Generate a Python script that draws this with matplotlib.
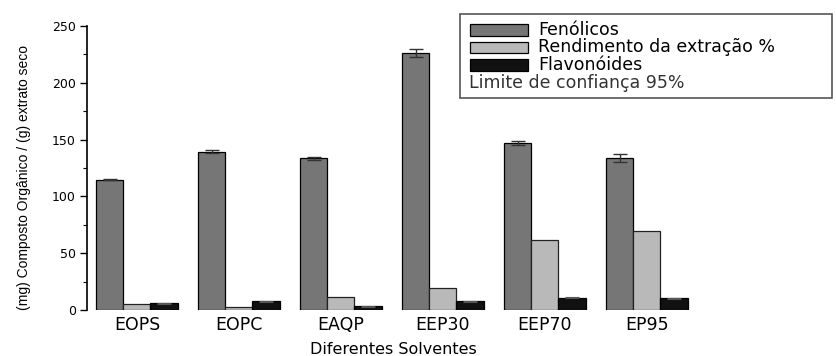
import matplotlib
matplotlib.use("Agg")
import matplotlib.pyplot as plt
import numpy as np
from matplotlib.patches import Rectangle
from matplotlib.ticker import MultipleLocator

categories = ["EOPS", "EOPC", "EAQP", "EEP30", "EEP70", "EP95"]
fenolicos = [114.5, 139.5, 133.5, 226.0, 147.0, 133.5]
fenolicos_err = [0.5, 1.5, 1.2, 3.5, 2.0, 3.5]
rendimento = [5.7, 2.6, 11.2, 19.0, 61.9, 69.5]
flavonoides = [5.8, 7.8, 3.3, 7.6, 11.0, 10.2]
flavonoides_err = [0.4, 0.4, 0.3, 0.4, 0.4, 0.3]

series_labels = ["Fenólicos", "Rendimento da extração %", "Flavonóides"]
colors = ["#767676", "#b9b9b9", "#111111"]
conf_label = "Limite de confiança 95%"

W, H = 837, 356
fig = plt.figure(figsize=(W / 100, H / 100), dpi=100)
ax = fig.add_axes([87 / W, 1 - 310 / H, (700 - 87) / W, (310 - 26) / H])

x = np.arange(len(categories))
bw = 0.265
ax.bar(x - bw, fenolicos, bw, color=colors[0], edgecolor="black", linewidth=0.9,
       yerr=fenolicos_err, error_kw=dict(ecolor="#333333", elinewidth=1.0, capsize=5, capthick=1.0))
ax.bar(x, rendimento, bw, color=colors[1], edgecolor="#222222", linewidth=0.9)
ax.bar(x + bw, flavonoides, bw, color=colors[2], edgecolor="black", linewidth=0.9,
       yerr=flavonoides_err, error_kw=dict(ecolor="#555555", elinewidth=0.8, capsize=5, capthick=0.8))

ax.set_xlim(-0.49, 5.52)
ax.set_ylim(0, 250)
ax.yaxis.set_major_locator(MultipleLocator(50))
ax.yaxis.set_minor_locator(MultipleLocator(25))
for s in ["top", "right", "bottom"]:
    ax.spines[s].set_visible(False)
ax.spines["left"].set_linewidth(1.2)
ax.tick_params(axis="y", which="major", length=5, width=1.0, labelsize=9, pad=3)
ax.tick_params(axis="y", which="minor", length=3, width=0.8)
ax.tick_params(axis="x", length=0, labelsize=12.5, pad=4)
ax.set_xticks(x)
ax.set_xticklabels(categories, fontfamily="DejaVu Sans")
for lab in ax.get_yticklabels():
    lab.set_fontfamily("DejaVu Sans")

ax.set_xlabel("Diferentes Solventes", fontsize=11.5, fontfamily="DejaVu Sans")
ax.xaxis.set_label_coords(0.5, -0.112)
ax.set_ylabel("(mg) Composto Orgânico / (g) extrato seco",
              fontsize=10, fontfamily=["Liberation Sans", "DejaVu Sans"])
ax.yaxis.set_label_coords(-0.091, 0.465)

# legend (drawn in figure pixel space)
def fx(px):
    return px / W

def fy(py):
    return 1 - py / H

fig.add_artist(Rectangle((fx(460), fy(98)), fx(832) - fx(460), fy(14) - fy(98),
                         transform=fig.transFigure, facecolor="white",
                         edgecolor="#555555", linewidth=1.2))
rows = [30, 47.5, 65]
for lab, col, ry in zip(series_labels, colors, rows):
    fig.add_artist(Rectangle((fx(470), fy(ry + 5.5)), fx(528) - fx(470), fy(ry - 5.5) - fy(ry + 5.5),
                             transform=fig.transFigure, facecolor=col,
                             edgecolor="black", linewidth=0.9))
    fig.text(fx(538), fy(ry), lab, fontsize=12.5, fontfamily="DejaVu Sans",
             va="center", ha="left", color="black")
fig.text(fx(469), fy(82.5), conf_label, fontsize=12.5, fontfamily="DejaVu Sans",
         va="center", ha="left", color="#333333")

fig.savefig("out.png", dpi=100)
